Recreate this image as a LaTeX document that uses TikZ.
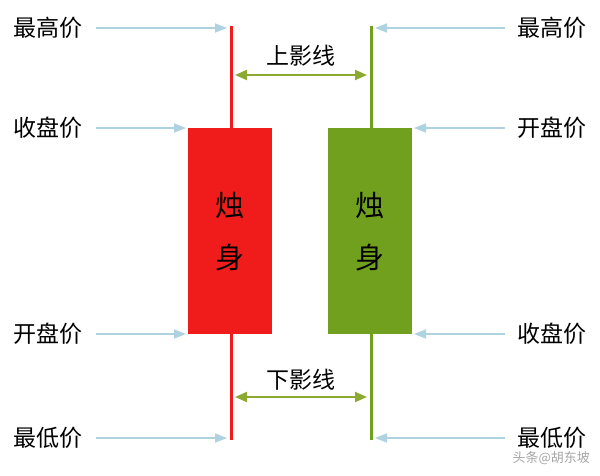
\documentclass[tikz,border=0pt]{standalone}
\usepackage{fontspec}
\newfontfamily\cjk{Noto Sans CJK SC}
\usetikzlibrary{arrows.meta}
\definecolor{cred}{RGB}{240,28,28}
\definecolor{cgreen}{RGB}{112,160,30}
\definecolor{carr}{RGB}{175,210,225}
\definecolor{cdbl}{RGB}{140,170,50}
\begin{document}
\begin{tikzpicture}[x=1pt,y=-1pt,
  lab/.style={font=\cjk\fontsize{23}{23}\selectfont,inner sep=0pt},
  pa/.style={draw=carr,line width=1.6pt,-{Triangle[length=12pt,width=9pt]}},
  da/.style={draw=cdbl,line width=2pt,{Triangle[length=12pt,width=10pt]}-{Triangle[length=12pt,width=10pt]}}]
\useasboundingbox (0,0) rectangle (600,475);
\fill[white] (0,0) rectangle (600,475);
% red candle
\coordinate (rt) at (231,26); \coordinate (rb) at (231,440);
\draw[cred,line width=3pt] (rt) -- (rb);
\node[fill=cred,minimum width=84pt,minimum height=206pt,inner sep=0pt] (rbody) at (230,231) {};
\node[lab,font=\cjk\fontsize{29}{29}\selectfont] at (230,205) {烛};
\node[lab,font=\cjk\fontsize{29}{29}\selectfont] at (230,258) {身};
% green candle
\coordinate (gt) at (371,26); \coordinate (gb) at (371,440);
\draw[cgreen,line width=3pt] (gt) -- (gb);
\node[fill=cgreen,minimum width=84pt,minimum height=206pt,inner sep=0pt] (gbody) at (370,231) {};
\node[lab,font=\cjk\fontsize{29}{29}\selectfont] at (370,205) {烛};
\node[lab,font=\cjk\fontsize{29}{29}\selectfont] at (370,258) {身};
% left labels
\node[lab,anchor=west] (l1) at (13,28) {最高价};
\node[lab,anchor=west] (l2) at (13,128) {收盘价};
\node[lab,anchor=west] (l3) at (13,334) {开盘价};
\node[lab,anchor=west] (l4) at (13,438) {最低价};
\draw[pa] (96,28) -- (227,28);
\draw[pa] (96,128) -- (186,128);
\draw[pa] (96,334) -- (186,334);
\draw[pa] (96,438) -- (227,438);
% right labels
\node[lab,anchor=east] (r1) at (587,28) {最高价};
\node[lab,anchor=east] (r2) at (587,128) {开盘价};
\node[lab,anchor=east] (r3) at (587,334) {收盘价};
\node[lab,anchor=east] (r4) at (587,438) {最低价};
\draw[pa] (505,28) -- (375,28);
\draw[pa] (505,128) -- (414,128);
\draw[pa] (505,334) -- (414,334);
\draw[pa] (505,438) -- (375,438);
% shadows
\node[lab] (up) at (301,56) {上影线};
\node[lab] (dn) at (301,380) {下影线};
\draw[da] (235,75) -- (367,75);
\draw[da] (235,397) -- (367,397);
\node[font=\cjk\fontsize{13}{13}\selectfont,text=gray!70,anchor=east,inner sep=0pt] (wm) at (590,458) {头条@胡东坡};
\end{tikzpicture}
\end{document}
